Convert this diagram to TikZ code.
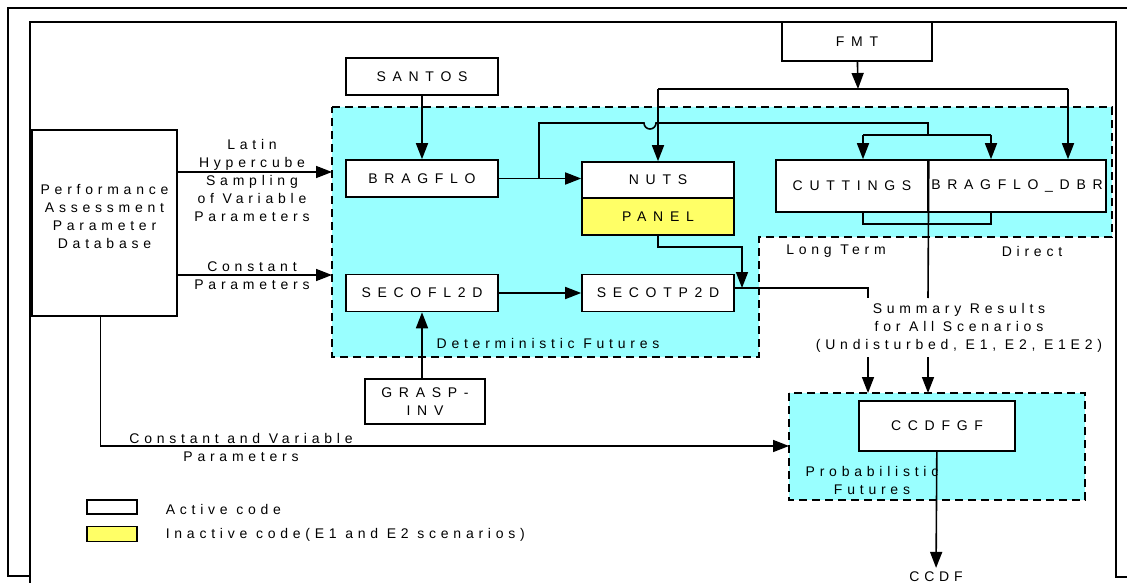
\documentclass[tikz,border=0pt]{standalone}
\usepackage{fontspec}
\setmainfont{Liberation Sans}[LetterSpace=34]
\usetikzlibrary{arrows.meta}

\definecolor{detblue}{RGB}{153,255,255}
\definecolor{inactive}{RGB}{255,255,102}

\begin{document}
\begin{tikzpicture}[x=1pt, y=-1pt, line width=1.6pt,
    every node/.style={font=\fontsize{14}{18}\selectfont},
    code/.style={draw, fill=white, minimum width=152pt, minimum height=37pt, inner sep=0pt,
        font=\fontsize{14}{18}\selectfont\addfontfeature{LetterSpace=48}},
    txt/.style={align=center, inner sep=0pt},
    arr/.style={-{Triangle[length=16pt,width=12pt]}},
    region/.style={draw, dash pattern=on 8pt off 5pt, fill=detblue}]

    \useasboundingbox (0,0) rectangle (1127,583);

    % page frames
    \draw[line width=2.4pt] (1127,8) -- (8,8) -- (8,576) -- (30,576);
    \draw (30,583) -- (30,22) -- (1116,22) -- (1116,577) -- (1127,577);

    % dashed regions
    \draw[region] (332,107) -- (1112,107) -- (1112,237) -- (759,237) -- (759,357) -- (332,357) -- cycle;
    \draw[region] (789,393) rectangle (1085,500);

    % codes
    \node[code, minimum width=145pt, minimum height=186pt] (db) at (104.5,223) {};
    \node[txt] (dbtext) at (104.5,216.5) {Performance\\Assessment\\Parameter\\Database};
    \node[code] (santos) at (422,76.5) {SANTOS};
    \node[code] (bragflo) at (422,178.5) {BRAGFLO};
    \node[code, minimum height=36pt] (nuts) at (658,180) {NUTS};
    \node[code, fill=inactive] (panel) at (658,216.5) {PANEL};
    \node[code, minimum height=52pt] (cuttings) at (852,186) {CUTTINGS};
    \node[code, minimum width=178pt, minimum height=52pt] (dbr) at (1017,186) {BRAGFLO\_DBR};
    \node[code] (secofl) at (422,293) {SECOFL2D};
    \node[code] (secotp) at (658,293) {SECOTP2D};
    \node[code, minimum width=120pt, minimum height=45pt, align=center] (grasp) at (425,401.5) {GRASP-\\INV};
    \node[code, minimum width=150pt, minimum height=39pt] (fmt) at (857,41.5) {FMT};
    \node[code, minimum width=156pt, minimum height=50pt] (ccdfgf) at (937,426) {CCDFGF};
    \node (ccdf) at (936,577) {CCDF};

    % labels
    \node[txt] (latin) at (252,180.5) {Latin\\Hypercube\\Sampling\\of Variable\\Parameters};
    \node[txt] (const) at (252,276) {Constant\\Parameters};
    \node[txt] (constvar) at (241,447) {Constant and Variable\\Parameters};
    \node[txt] (summary) at (959,327.5) {Summary Results\\for All Scenarios\\(Undisturbed, E1, E2, E1E2)};
    \node[txt] (longterm) at (836,251) {Long Term};
    \node[txt] (direct) at (1032,251) {Direct};
    \node[txt] (detfut) at (548,343) {Deterministic Futures};
    \node[txt] (probfut) at (872,480.5) {Probabilistic\\Futures};

    % legend
    \node[code, minimum width=50pt, minimum height=14pt] (activebox) at (112,507) {};
    \node[code, minimum width=50pt, minimum height=15pt, fill=inactive] (inactivebox) at (112,534) {};
    \node[txt, anchor=west] (activetext) at (165,509) {Active code};
    \node[txt, anchor=west] (inactivetext) at (165,535) {Inactive code(E1 and E2 scenarios)};

    % ends of connectors
    \coordinate (latinin) at (332,172);
    \coordinate (constin) at (332,275);
    \coordinate (split) at (539,178.5);
    \coordinate (fmtbus) at (858,89);
    \coordinate (dbrbus) at (1068,89);
    \coordinate (cutarr) at (863,135);
    \coordinate (dbrarr) at (991,135);
    \coordinate (cutsplit) at (928,135);
    \coordinate (sumjoin) at (742,288);
    \coordinate (sumleft) at (868,298);
    \coordinate (sumright) at (928,298);
    \coordinate (probw) at (789,446);

    % connectors
    \draw[arr] (db.east |- latinin) -- (latinin);
    \draw[arr] (db.east |- constin) -- (constin);
    \draw[arr] ([xshift=-4pt]db.south) |- (probw);
    \draw[arr] (santos) -- (bragflo);
    \draw[arr] (bragflo.east) -- (bragflo.east -| nuts.west);
    \draw (split) -- (539,123) -- (644,123) arc (180:0:6) -- (928,123) -- (cutsplit);
    \draw (cutarr) -- (dbrarr);
    \draw[arr] (cutarr) -- (cutarr |- cuttings.north);
    \draw[arr] (dbrarr) -- (dbrarr |- dbr.north);
    \draw (cutarr |- cuttings.south) -- ++(0,11) -| (dbrarr |- dbr.south);
    \draw (cuttings.north east) -- (sumright);
    \draw[arr] (fmt) -- (fmtbus);
    \draw (nuts.north |- fmtbus) -- (dbrbus);
    \draw[arr] (nuts.north |- fmtbus) -- (nuts.north);
    \draw[arr] (dbrbus) -- (dbrbus |- dbr.north);
    \draw[arr] (panel.south) -- ++(0,11) -| (sumjoin);
    \draw (secotp.east |- sumjoin) -| (sumleft);
    \draw[arr] (secofl) -- (secotp);
    \draw[arr] (grasp.north -| secofl.south) -- (secofl.south);
    \draw[arr] (868,357) -- (868,393);
    \draw[arr] (928,357) -- (928,393);
    \draw[arr] (ccdfgf) -- (ccdf);
\end{tikzpicture}
\end{document}
